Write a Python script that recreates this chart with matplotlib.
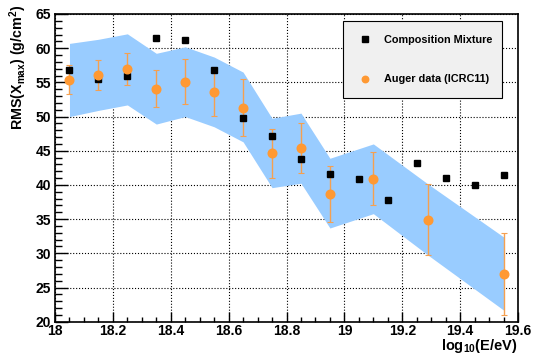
import matplotlib
matplotlib.use("Agg")
import matplotlib.pyplot as plt
from matplotlib.ticker import MultipleLocator

plt.rcParams['font.family'] = ['Liberation Sans', 'DejaVu Sans']
plt.rcParams['font.weight'] = 'bold'
plt.rcParams['mathtext.fontset'] = 'custom'
plt.rcParams['mathtext.bf'] = 'Liberation Sans:bold'
plt.rcParams['mathtext.rm'] = 'Liberation Sans:bold'
plt.rcParams['mathtext.default'] = 'bf'

# composition mixture (model)
mix_e = [18.05, 18.15, 18.25, 18.35, 18.45, 18.55, 18.65, 18.75, 18.85, 18.95,
         19.05, 19.15, 19.25, 19.35, 19.45, 19.55]
mix_rms = [56.8, 55.5, 56.0, 61.45, 61.2, 56.85, 49.75, 47.1, 43.8, 41.55,
           40.8, 37.75, 43.15, 41.0, 40.0, 41.45]

# Auger data (ICRC11)
aug_e = [18.05, 18.15, 18.25, 18.35, 18.45, 18.55, 18.65, 18.75, 18.85, 18.95,
         19.1, 19.29, 19.55]
aug_rms = [55.4, 56.1, 56.95, 54.1, 55.1, 53.55, 51.3, 44.6, 45.4, 38.7,
           40.9, 34.9, 27.0]
aug_err = [2.1, 2.15, 2.3, 2.7, 3.3, 3.4, 4.2, 3.65, 3.6, 4.1, 3.85, 5.2, 6.0]

# systematic band
band_hi = [60.7, 61.3, 62.1, 59.25, 60.2, 58.7, 56.5, 49.75, 50.5, 43.9, 46.0, 40.1, 32.4]
band_lo = [50.0, 50.9, 51.7, 48.9, 50.0, 48.5, 46.3, 39.6, 40.25, 33.7, 35.8, 29.7, 21.7]

fig = plt.figure(figsize=(5.33, 3.57), dpi=100)
ax = fig.add_axes([0.1032, 0.0989, 0.8687, 0.8619])

ax.fill_between(aug_e, band_lo, band_hi, color='#99ccff', lw=0, zorder=2)

ax.errorbar(aug_e, aug_rms, yerr=aug_err, fmt='none', ecolor='#f5a050',
            elinewidth=1.0, capsize=2, capthick=0.8, zorder=3)
ax.plot(mix_e, mix_rms, 's', color='black', ms=5, lw=0, zorder=4,
        label='Composition Mixture')
ax.plot(aug_e, aug_rms, 'o', color='#ff9933', ms=6.2, lw=0, zorder=5,
        label='Auger data (ICRC11)')

ax.set_xlim(18, 19.6)
ax.set_ylim(20, 65)
ax.xaxis.set_major_locator(MultipleLocator(0.2))
ax.xaxis.set_minor_locator(MultipleLocator(0.05))
ax.yaxis.set_major_locator(MultipleLocator(5))
ax.yaxis.set_minor_locator(MultipleLocator(1))
ax.set_xticks([18, 18.2, 18.4, 18.6, 18.8, 19, 19.2, 19.4, 19.6])
ax.set_xticklabels(['18', '18.2', '18.4', '18.6', '18.8', '19', '19.2', '19.4', '19.6'])

ax.grid(True, which='major', color='black', ls=':', lw=0.8, zorder=1)
ax.set_axisbelow(True)

ax.tick_params(axis='both', which='both', direction='in', top=False, right=False,
               labelsize=10, width=1)
ax.tick_params(axis='x', which='major', length=7, pad=2)
ax.tick_params(axis='x', which='minor', length=3.6)
ax.tick_params(axis='y', which='major', length=9, pad=3)
ax.tick_params(axis='y', which='minor', length=4.8)
for lab in ax.get_xticklabels() + ax.get_yticklabels():
    lab.set_fontweight('bold')
for sp in ax.spines.values():
    sp.set_linewidth(1.2)

ax.text(1.0, -0.05, r'log$_{10}$(E/eV)', transform=ax.transAxes, ha='right',
        va='top', fontsize=10.5, fontweight='bold')
ax.text(-0.08, 1.03, r'RMS(X$_{max}$) (g/cm$^2$)', transform=ax.transAxes,
        ha='center', va='top', rotation=90, fontsize=10.3, fontweight='bold')

leg = ax.legend(loc='upper left', bbox_to_anchor=(0.621, 0.977, 0.345, 0.0),
                mode='expand', fontsize=7.8, frameon=True, fancybox=False,
                facecolor='#f0f0f0', edgecolor='black', framealpha=1,
                labelspacing=2.7, borderpad=1.3, handlelength=1.5,
                handletextpad=1.0, numpoints=1, borderaxespad=0,
                markerscale=0.75)
leg.get_frame().set_linewidth(0.8)
for t in leg.get_texts():
    t.set_fontweight('bold')

fig.savefig('out.png', dpi=100)
